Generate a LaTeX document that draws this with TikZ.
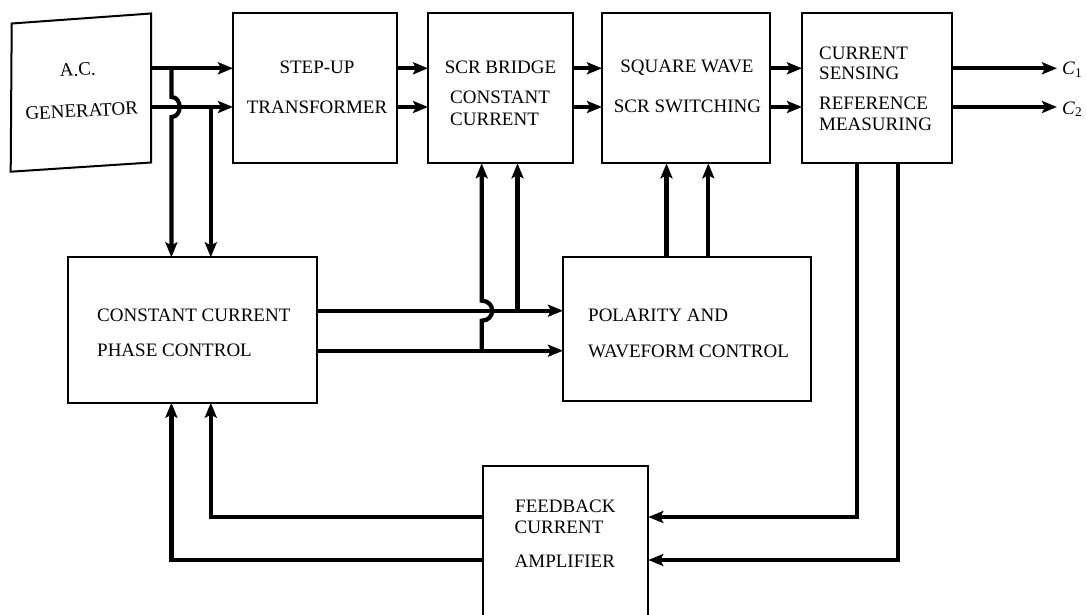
\documentclass[tikz,border=0pt]{standalone}
\usepackage{fontspec}
\setmainfont{Liberation Serif}
\usetikzlibrary{arrows.meta,calc}
\begin{document}
\begin{tikzpicture}[x=1pt,y=-1pt,
  box/.style={draw, line width=2pt, rectangle, inner sep=0pt, outer sep=0pt},
  conn/.style={line width=4.2pt},
  arr/.style={conn, -{Stealth[length=15pt,width=12pt,inset=3pt]}},
  lbl/.style={font=\fontsize{19}{19}\selectfont, inner sep=0pt, anchor=base west},
  lblc/.style={lbl, anchor=base}]
\useasboundingbox (0,0) rectangle (1086,615);
\clip (0,0) rectangle (1086,615);

% blocks
\node[inner sep=0pt, outer sep=0pt, minimum width=140pt, minimum height=149pt] (gen) at (81,88) {};
\draw[line width=2pt] ($(gen.north west)+(0.7,10)$) -- (gen.north east) -- (gen.south east) -- ($(gen.south west)+(-0.3,9.2)$) -- cycle;
\node[box, minimum width=164pt, minimum height=150pt] (stepup) at (315,88.3) {};
\node[box, minimum width=145pt, minimum height=150pt] (scr) at (500.5,88.3) {};
\node[box, minimum width=168pt, minimum height=150pt] (sq) at (686,88.3) {};
\node[box, minimum width=150pt, minimum height=150pt] (cs) at (877,88.3) {};
\node[box, minimum width=248.4pt, minimum height=145.4pt] (ccpc) at (192.5,330) {};
\node[box, minimum width=248pt, minimum height=144pt] (pol) at (687,328.7) {};
\node[box, minimum width=165pt, minimum height=175pt] (fb) at (565.8,553.2) {};

% texts
\node[lblc, rotate=3] (tac) at (78,76) {A.C.};
\node[lblc, rotate=3] (tgen) at (82,117) {GENERATOR};
\node[lblc] (tsu1) at (317,73.3) {STEP-UP};
\node[lblc] (tsu2) at (317,113.3) {TRANSFORMER};
\node[lblc] (tscr1) at (500.5,73.3) {SCR BRIDGE};
\node[lbl] (tscr2) at (450,103) {CONSTANT};
\node[lbl] (tscr3) at (450,125) {CURRENT};
\node[lblc] (tsq1) at (687,73) {SQUARE WAVE};
\node[lblc] (tsq2) at (687.5,113) {SCR SWITCHING};
\node[lbl] (tcs1) at (819,59.3) {CURRENT};
\node[lbl] (tcs2) at (819,80) {SENSING};
\node[lbl] (tcs3) at (819,110) {REFERENCE};
\node[lbl] (tcs4) at (819,130.7) {MEASURING};
\node[lbl] (tcc1) at (97,321.7) {CONSTANT CURRENT};
\node[lbl] (tcc2) at (97,356.7) {PHASE CONTROL};
\node[lbl] (tpol1) at (588,321.7) {POLARITY AND};
\node[lbl] (tpol2) at (588,357) {WAVEFORM CONTROL};
\node[lbl] (tfb1) at (515,512.7) {FEEDBACK};
\node[lbl] (tfb2) at (514.5,533) {CURRENT};
\node[lbl] (tfb3) at (514.5,567) {AMPLIFIER};

% reference coordinates
\coordinate (r1) at (0,68.3);
\coordinate (r2) at (0,107);
\coordinate (xa) at (171.4,0);
\coordinate (xb) at (210.8,0);
\coordinate (xc) at (481.7,0);
\coordinate (xd) at (517.5,0);
\coordinate (xe) at (666.5,0);
\coordinate (xf) at (708.3,0);
\coordinate (xg) at (857,0);
\coordinate (xh) at (898.3,0);
\coordinate (h1) at (0,310.7);
\coordinate (h2) at (0,350.7);
\coordinate (f1) at (0,517);
\coordinate (f2) at (0,560);
\coordinate (cend) at (1057,0);

% outputs
\node[lbl] (c1) at (1062,75) {\textit{C}\textsubscript{1}};
\node[lbl] (c2) at (1062,114) {\textit{C}\textsubscript{2}};

% connectors - main chain
\draw[arr] (gen.east |- r1) -- (stepup.west |- r1);
\draw[arr] (gen.east |- r2) -- (stepup.west |- r2);
\draw[arr] (stepup.east |- r1) -- (scr.west |- r1);
\draw[arr] (stepup.east |- r2) -- (scr.west |- r2);
\draw[arr] (scr.east |- r1) -- (sq.west |- r1);
\draw[arr] (scr.east |- r2) -- (sq.west |- r2);
\draw[arr] (sq.east |- r1) -- (cs.west |- r1);
\draw[arr] (sq.east |- r2) -- (cs.west |- r2);
\draw[arr] (cs.east |- r1) -- (cend |- r1);
\draw[arr] (cs.east |- r2) -- (cend |- r2);

% generator taps to phase control
\draw[arr] (xa |- r1) -- ($(xa |- r2)+(0,-10)$) .. controls +(11,0) and +(11,0) .. ($(xa |- r2)+(0,10)$) -- (xa |- ccpc.north);
\draw[arr] (xb |- r2) -- (xb |- ccpc.north);

% phase control to polarity
\draw[arr] (ccpc.east |- h1) -- (pol.west |- h1);
\draw[arr] (ccpc.east |- h2) -- (pol.west |- h2);
\draw[arr] (xc |- h2) -- ($(xc |- h1)+(0,10)$) .. controls +(14,0) and +(14,0) .. ($(xc |- h1)+(0,-10)$) -- (xc |- scr.south);
\draw[arr] (xd |- h1) -- (xd |- scr.south);

% polarity to square wave
\draw[arr] (xe |- pol.north) -- (xe |- sq.south);
\draw[arr] (xf |- pol.north) -- (xf |- sq.south);

% feedback loop
\draw[arr] (xg |- cs.south) -- (xg |- f1) -- (fb.east |- f1);
\draw[arr] (xh |- cs.south) -- (xh |- f2) -- (fb.east |- f2);
\draw[arr] (fb.west |- f1) -- (xb |- f1) -- (xb |- ccpc.south);
\draw[arr] (fb.west |- f2) -- (xa |- f2) -- (xa |- ccpc.south);
\end{tikzpicture}
\end{document}
